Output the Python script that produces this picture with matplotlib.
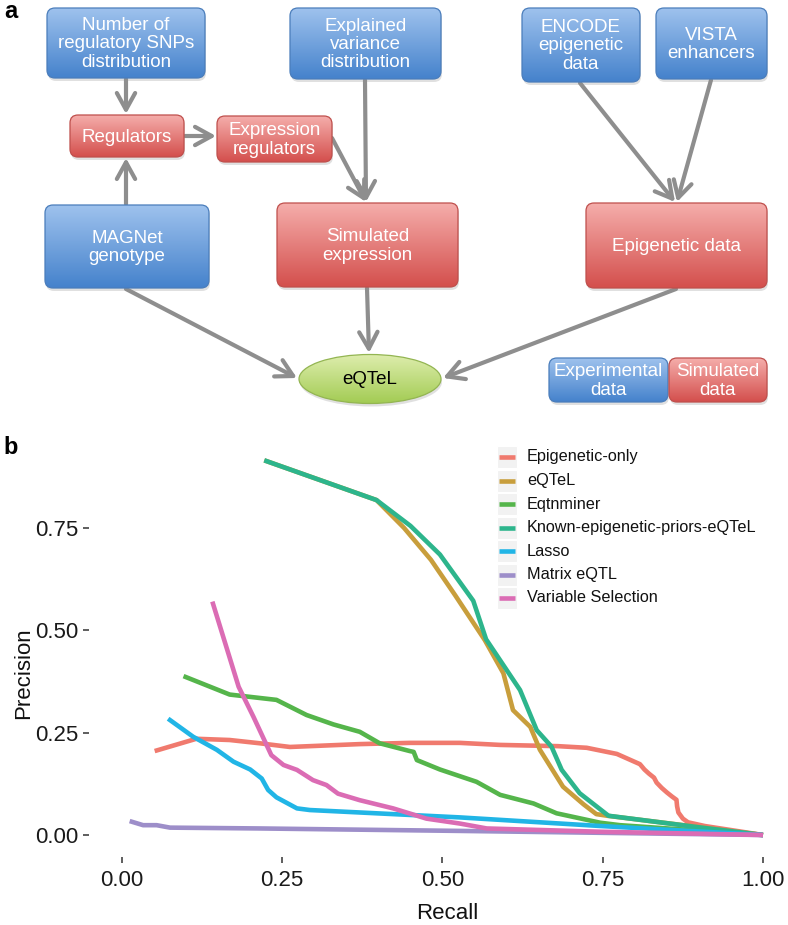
import numpy as np
import matplotlib
matplotlib.use("Agg")
import matplotlib.pyplot as plt
from matplotlib.patches import FancyBboxPatch, Ellipse, FancyArrowPatch, Rectangle, ArrowStyle
from matplotlib.lines import Line2D

plt.rcParams['font.family'] = ['Liberation Sans', 'DejaVu Sans']

# ---------------- data (panel b) ----------------
series_names = ["Epigenetic-only", "eQTeL", "Eqtnminer", "Known-epigenetic-priors-eQTeL",
                "Lasso", "Matrix eQTL", "Variable Selection"]
series_colors = ["#F07A6E", "#C89E3C", "#55B54B", "#2DB58C", "#21B5E6", "#9D8EC9", "#DB6CB4"]

epi_x = [0.051, 0.116, 0.168, 0.215, 0.262, 0.371, 0.449, 0.527, 0.590, 0.680, 0.725, 0.772,
         0.808, 0.815, 0.822, 0.830, 0.834, 0.842, 0.850, 0.858, 0.865, 0.866, 0.868, 0.875,
         0.883, 0.909, 1.0]
epi_y = [0.205, 0.235, 0.232, 0.224, 0.215, 0.222, 0.225, 0.225, 0.220, 0.217, 0.213, 0.198,
         0.173, 0.160, 0.150, 0.140, 0.128, 0.115, 0.104, 0.094, 0.086, 0.070, 0.055, 0.040,
         0.031, 0.022, 0.0]

eqtel_x = [0.222, 0.397, 0.440, 0.482, 0.520, 0.566, 0.595, 0.610, 0.637, 0.652, 0.688, 0.720,
           0.740, 0.757, 1.0]
eqtel_y = [0.915, 0.818, 0.750, 0.672, 0.585, 0.476, 0.395, 0.305, 0.264, 0.208, 0.118, 0.075,
           0.051, 0.047, 0.0]

eqtn_x = [0.096, 0.168, 0.241, 0.288, 0.330, 0.371, 0.402, 0.449, 0.455, 0.460, 0.496, 0.553,
          0.590, 0.642, 0.678, 0.746, 0.777, 1.0]
eqtn_y = [0.388, 0.343, 0.330, 0.293, 0.270, 0.252, 0.224, 0.205, 0.203, 0.183, 0.160, 0.130,
          0.098, 0.077, 0.053, 0.030, 0.024, 0.0]

known_x = [0.222, 0.397, 0.450, 0.496, 0.548, 0.568, 0.621, 0.647, 0.670, 0.686, 0.714, 0.759,
           0.904, 1.0]
known_y = [0.915, 0.818, 0.755, 0.685, 0.572, 0.478, 0.354, 0.256, 0.216, 0.159, 0.102, 0.047,
           0.018, 0.0]

lasso_x = [0.072, 0.111, 0.148, 0.174, 0.200, 0.218, 0.228, 0.241, 0.273, 0.293, 0.527, 0.746, 1.0]
lasso_y = [0.284, 0.240, 0.208, 0.179, 0.160, 0.138, 0.110, 0.092, 0.065, 0.061, 0.043, 0.022, 0.0]

matrix_x = [0.012, 0.033, 0.054, 0.075, 0.215, 0.527, 1.0]
matrix_y = [0.034, 0.024, 0.024, 0.018, 0.016, 0.010, 0.0]

varsel_x = [0.141, 0.182, 0.205, 0.233, 0.252, 0.273, 0.298, 0.319, 0.337, 0.371, 0.423, 0.475,
            0.527, 0.569, 0.746, 1.0]
varsel_y = [0.570, 0.362, 0.289, 0.195, 0.171, 0.159, 0.134, 0.122, 0.101, 0.085, 0.065, 0.040,
            0.028, 0.016, 0.008, 0.0]

series_x = [epi_x, eqtel_x, eqtn_x, known_x, lasso_x, matrix_x, varsel_x]
series_y = [epi_y, eqtel_y, eqtn_y, known_y, lasso_y, matrix_y, varsel_y]

xticks = [0.0, 0.25, 0.5, 0.75, 1.0]
xticklabels = ["0.00", "0.25", "0.50", "0.75", "1.00"]
yticks = [0.0, 0.25, 0.5, 0.75]
yticklabels = ["0.00", "0.25", "0.50", "0.75"]

# ---------------- data (panel a) ----------------
box_labels = ["Number of\nregulatory SNPs\ndistribution", "Explained\nvariance\ndistribution",
              "ENCODE\nepigenetic\ndata", "VISTA\nenhancers", "Regulators", "Expression\nregulators",
              "MAGNet\ngenotype", "Simulated\nexpression", "Epigenetic data",
              "Experimental\ndata", "Simulated\ndata"]
box_kinds = ["exp", "exp", "exp", "exp", "sim", "sim", "exp", "sim", "sim", "exp", "sim"]
center_label = "eQTeL"

# ---------------- figure ----------------
W, H = 788, 925
fig = plt.figure(figsize=(W / 100, H / 100), dpi=100)

# panel b axes
L, R, T, B = 98, 788, 441.5, 853.8
ax = fig.add_axes([L / W, 1 - B / H, (R - L) / W, (B - T) / H])
for xs, ys, c in zip(series_x, series_y, series_colors):
    ax.plot(xs, ys, color=c, lw=3.3, solid_joinstyle='round', solid_capstyle='butt')
ax.set_xlim(-0.0374, 1.039)
ax.set_ylim(-0.0459, 0.961)
for s in ax.spines.values():
    s.set_visible(False)
ax.spines['left'].set_position(('outward', 6.5))
ax.spines['bottom'].set_position(('outward', 2.2))
ax.set_xticks(xticks)
ax.set_xticklabels(xticklabels)
ax.set_yticks(yticks)
ax.set_yticklabels(yticklabels)
ax.tick_params(axis='both', direction='out', length=4.3, width=1.1, color='#333333',
               labelsize=16, labelcolor='#1a1a1a')
ax.tick_params(axis='y', pad=3)
ax.tick_params(axis='x', pad=5)
ax.set_xlabel("Recall", fontsize=16, color='#111111')
ax.set_ylabel("Precision", fontsize=16, color='#111111')
ax.xaxis.set_label_coords(447 / W, 1 - 903 / H, transform=fig.transFigure)
ax.yaxis.set_label_coords(34 / W, 1 - 673 / H, transform=fig.transFigure)

# overlay axes in pixel coordinates (diagram + legend)
ov = fig.add_axes([0, 0, 1, 1], zorder=5)
ov.patch.set_alpha(0)
ov.axis('off')

grad_cols = {
    "exp": ((0.62, 0.76, 0.93), (0.27, 0.51, 0.80), "#4a7dbb"),
    "sim": ((0.96, 0.68, 0.67), (0.83, 0.31, 0.30), "#bf4f4c"),
}

box_pos = [(47, 8, 205, 78), (290, 8, 441, 79), (522, 8, 640, 82), (656, 8, 767, 79),
           (70, 115, 184, 157), (217, 116, 332, 162), (45, 205, 209, 288), (277, 203, 458, 287),
           (586, 203, 767, 288), (549, 358, 668, 402), (669, 358, 767, 402)]


def gradient_fill(patch, x0, y0, x1, y1, top, bot):
    g = np.linspace(0, 1, 96)[:, None, None]
    img = (1 - g) * np.array(top)[None, None, :] + g * np.array(bot)[None, None, :]
    im = ov.imshow(img, extent=(x0, x1, y1, y0), aspect='auto', zorder=2,
                   interpolation='bilinear')
    im.set_clip_path(patch)


for lab, kind, (x0, y0, x1, y1) in zip(box_labels, box_kinds, box_pos):
    top, bot, edge = grad_cols[kind]
    sh = FancyBboxPatch((x0 + 1, y0 + 3), x1 - x0, y1 - y0,
                        boxstyle="round,pad=0,rounding_size=8", fc='#000000', ec='none',
                        alpha=0.12, zorder=1.2)
    ov.add_patch(sh)
    p = FancyBboxPatch((x0, y0), x1 - x0, y1 - y0, boxstyle="round,pad=0,rounding_size=8",
                       fc='none', ec=edge, lw=0.9, zorder=3)
    ov.add_patch(p)
    gradient_fill(p, x0, y0, x1, y1, top, bot)
    ov.text((x0 + x1) / 2, (y0 + y1) / 2 + 1, lab, ha='center', va='center', color='white',
            fontsize=13.5, linespacing=1.1, zorder=4)

# eQTeL ellipse
ecx, ecy, ew, eh = 370, 379, 142, 49
ov.add_patch(Ellipse((ecx + 1, ecy + 3), ew, eh, fc='#000000', ec='none', alpha=0.12, zorder=1.2))
el = Ellipse((ecx, ecy), ew, eh, fc='none', ec='#93b552', lw=0.9, zorder=3)
ov.add_patch(el)
gradient_fill(el, ecx - ew / 2, ecy - eh / 2, ecx + ew / 2, ecy + eh / 2,
              (0.87, 0.93, 0.68), (0.64, 0.80, 0.33))
ov.text(ecx, ecy + 1, center_label, ha='center', va='center', color='black', fontsize=13.5,
        zorder=4)

arrows = [((126, 79), (126, 114)), ((126, 204), (126, 158)), ((185, 136), (216, 136)),
          ((332, 138), (366, 202)), ((365, 80), (366, 202)), ((580, 83), (675, 202)),
          ((711, 80), (677, 202)), ((126, 289), (297, 378)), ((367, 288), (369, 353)),
          ((676, 289), (443, 378))]
style = ArrowStyle("->", head_length=0.6, head_width=0.33)
for a, b in arrows:
    ov.add_patch(FancyArrowPatch(a, b, arrowstyle=style, mutation_scale=20, lw=3.0,
                                 color='#8e8e8e', shrinkA=0, shrinkB=0, zorder=1.5))

# panel labels
ov.text(11, 12, "a", fontsize=17, fontweight='bold', ha='center', va='center')
ov.text(11, 448, "b", fontsize=17, fontweight='bold', ha='center', va='center')

# legend (manual, ggplot-style)
leg_y0, leg_dy = 457, 23.5
for i, (name, c) in enumerate(zip(series_names, series_colors)):
    yc = leg_y0 + i * leg_dy
    ov.add_patch(Rectangle((497, yc - 11), 20, 22, fc='#f2f2f2', ec='white', lw=0.8, zorder=2))
    ov.add_line(Line2D([499, 515], [yc, yc], color=c, lw=3.3, solid_capstyle='butt', zorder=3))
    ov.text(527, yc, name, ha='left', va='center', fontsize=11.7, color='#111111', zorder=3)

ov.set_xlim(0, W)
ov.set_ylim(H, 0)

fig.savefig("out.png", dpi=100)
